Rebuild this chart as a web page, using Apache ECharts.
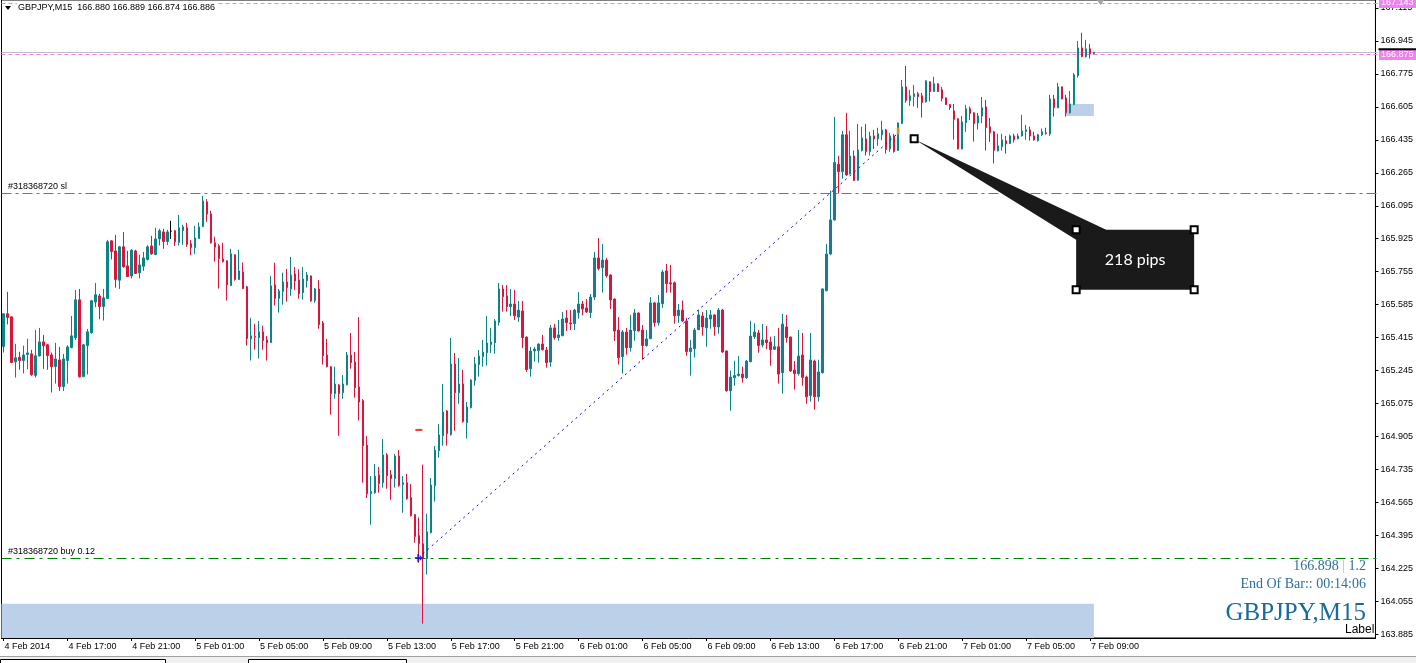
<!DOCTYPE html>
<html><head><meta charset="utf-8">
<script src="https://cdn.jsdelivr.net/npm/echarts@6/dist/echarts.min.js"></script>
<style>html,body{margin:0;padding:0;background:#fff;}#c{width:1416px;height:663px;}</style>
</head><body><div id="c"></div>
<script>
const symbolTitle = 'GBPJPY,M15';
const headerText = 'GBPJPY,M15  166.880 166.889 166.874 166.886';
const startTimeUTC = Date.UTC(2014, 1, 4, 13, 0);
const barMinutes = 15;
const totalSlots = 344;
const monthNames = ['Jan','Feb','Mar','Apr','May','Jun','Jul','Aug','Sep','Oct','Nov','Dec'];

const opens = [
165.369,165.538,165.522,165.290,165.314,165.297,165.328,165.331,165.220,165.321,
165.393,165.378,165.326,165.266,165.300,165.163,165.297,165.364,165.414,165.610,
165.214,165.374,165.440,165.599,165.630,165.575,165.617,165.914,165.862,165.711,
165.883,165.785,165.733,165.862,165.749,165.783,165.818,165.888,165.844,165.924,
165.960,165.911,165.964,165.966,165.905,165.967,165.981,165.899,165.880,165.926,
165.988,166.115,166.053,165.904,165.888,165.821,165.811,165.684,165.842,165.715,
165.754,165.677,165.409,165.421,165.414,165.445,165.403,165.390,165.687,165.617,
165.654,165.702,165.666,165.743,165.712,165.647,165.709,165.733,165.606,165.666,
165.490,165.325,165.265,165.126,165.171,165.131,165.172,165.325,165.289,165.160,
165.090,164.861,164.610,164.615,164.707,164.667,164.810,164.708,164.688,164.804,
164.657,164.667,164.590,164.502,164.394,164.352,164.275,164.409,164.652,164.832,
164.909,165.037,164.915,165.279,165.131,165.176,164.976,165.054,165.193,165.276,
165.317,165.337,165.379,165.389,165.494,165.666,165.630,165.575,165.588,165.521,
165.552,165.418,165.255,165.346,165.348,165.382,165.351,165.289,165.465,165.415,
165.425,165.516,165.491,165.487,165.544,165.588,165.568,165.544,165.624,165.826,
165.776,165.815,165.738,165.614,165.454,165.317,165.444,165.363,165.451,165.542,
165.454,165.374,165.410,165.594,165.492,165.590,165.759,165.698,165.698,165.528,
165.557,165.501,165.343,165.358,165.456,165.526,165.466,165.511,165.532,165.470,
165.557,165.346,165.141,165.208,165.219,165.227,165.208,165.291,165.420,165.439,
165.377,165.403,165.392,165.355,165.368,165.234,165.470,165.418,165.248,165.229,
165.325,165.212,165.116,165.294,165.110,165.234,165.657,165.846,166.022,166.309,
166.271,166.461,166.259,166.352,166.227,166.380,166.440,166.375,166.455,166.440,
166.461,166.486,166.388,166.455,166.380,166.519,166.708,166.638,166.658,166.672,
166.662,166.631,166.734,166.684,166.724,166.693,166.651,166.617,166.584,166.543,
166.388,166.524,166.595,166.574,166.522,166.558,166.605,166.502,166.476,166.378,
166.399,166.430,166.416,166.455,166.440,166.455,166.478,166.486,166.455,166.431,
166.461,166.471,166.466,166.646,166.600,166.708,166.651,166.574,166.617,166.766,
166.909,166.864,166.904,166.880];

const highs = [
165.538,165.651,165.525,165.383,165.342,165.373,165.409,165.352,165.455,165.465,
165.429,165.383,165.338,165.388,165.367,165.331,165.376,165.527,165.660,165.666,
165.383,165.460,165.610,165.697,165.641,165.666,165.919,165.917,165.945,165.888,
165.960,165.862,165.871,165.868,165.842,165.857,165.892,165.940,165.981,165.976,
165.976,165.971,166.017,165.971,166.048,165.997,166.007,165.919,165.991,166.009,
166.146,166.129,166.069,165.935,165.897,165.904,165.814,165.873,165.845,165.868,
165.802,165.682,165.517,165.486,165.501,165.476,165.424,165.733,165.801,165.666,
165.750,165.769,165.831,165.779,165.767,165.779,165.753,165.736,165.671,165.712,
165.501,165.408,165.268,165.265,165.176,165.222,165.341,165.439,165.341,165.521,
165.098,164.908,164.701,164.763,164.748,164.892,164.820,164.732,164.815,164.835,
164.701,164.712,164.660,164.505,164.487,164.760,164.507,164.691,164.856,164.970,
165.176,165.042,165.413,165.336,165.310,165.248,165.083,165.201,165.315,165.351,
165.403,165.526,165.465,165.511,165.697,165.686,165.686,165.666,165.661,165.604,
165.604,165.421,165.367,165.367,165.385,165.429,165.367,165.480,165.485,165.506,
165.547,165.557,165.557,165.563,165.650,165.604,165.614,165.640,165.857,165.929,
165.898,165.826,165.741,165.617,165.521,165.454,165.465,165.532,165.563,165.545,
165.480,165.454,165.624,165.599,165.635,165.764,165.795,165.790,165.704,165.588,
165.606,165.516,165.403,165.465,165.557,165.547,165.557,165.557,165.535,165.568,
165.563,165.349,165.245,165.296,165.320,165.265,165.300,165.502,165.489,165.454,
165.485,165.475,165.420,165.423,165.465,165.537,165.532,165.420,165.294,165.454,
165.439,165.219,165.439,165.301,165.301,165.669,165.898,166.173,166.553,166.352,
166.481,166.574,166.481,166.380,166.517,166.503,166.517,166.476,166.486,166.497,
166.533,166.491,166.471,166.466,166.525,166.744,166.816,166.693,166.718,166.682,
166.677,166.742,166.737,166.760,166.727,166.708,166.654,166.620,166.620,166.548,
166.558,166.615,166.607,166.577,166.574,166.656,166.641,166.548,166.481,166.466,
166.466,166.455,166.462,166.466,166.467,166.564,166.512,166.503,166.476,166.466,
166.493,166.497,166.667,166.667,166.729,166.711,166.667,166.687,166.780,166.945,
166.987,166.950,166.930,166.889];

const lows = [
165.338,165.483,165.283,165.209,165.249,165.230,165.252,165.218,165.209,165.317,
165.254,165.249,165.132,165.178,165.140,165.140,165.178,165.360,165.403,165.209,
165.211,165.225,165.436,165.572,165.510,165.503,165.614,165.818,165.672,165.666,
165.775,165.727,165.720,165.744,165.720,165.759,165.813,165.842,165.840,165.890,
165.873,165.893,165.924,165.888,165.890,165.893,165.883,165.840,165.847,165.924,
165.985,166.012,165.900,165.807,165.668,165.802,165.606,165.682,165.709,165.713,
165.665,165.374,165.297,165.352,165.307,165.352,165.297,165.387,165.581,165.544,
165.585,165.600,165.631,165.661,165.616,165.611,165.673,165.600,165.595,165.461,
165.276,165.262,165.018,165.100,164.909,165.100,165.169,165.255,165.105,164.987,
164.667,164.588,164.450,164.610,164.615,164.641,164.636,164.579,164.641,164.646,
164.512,164.579,164.492,164.358,164.254,163.940,164.193,164.406,164.569,164.796,
164.858,164.858,164.909,164.935,165.074,164.976,164.894,165.050,165.167,165.214,
165.265,165.270,165.336,165.332,165.477,165.549,165.549,165.526,165.506,165.496,
165.361,165.239,165.214,165.291,165.286,165.348,165.260,165.265,165.404,165.399,
165.422,165.449,165.454,165.454,165.513,165.530,165.542,165.516,165.609,165.762,
165.647,165.724,165.563,165.398,165.276,165.229,165.327,165.343,165.399,165.446,
165.301,165.368,165.407,165.471,165.477,165.569,165.647,165.647,165.487,165.492,
165.496,165.322,165.219,165.312,165.454,165.425,165.368,165.461,165.425,165.435,
165.337,165.136,165.038,165.167,165.214,165.183,165.202,165.288,165.408,165.337,
165.365,165.355,165.270,165.351,165.178,165.126,165.389,165.238,165.147,165.219,
165.167,165.074,165.085,165.043,165.085,165.229,165.654,165.840,166.019,166.158,
166.235,166.249,166.256,166.222,166.224,166.375,166.354,166.354,166.388,166.404,
166.433,166.364,166.373,166.369,166.378,166.517,166.626,166.610,166.607,166.600,
166.550,166.628,166.633,166.682,166.682,166.633,166.615,166.589,166.436,166.385,
166.385,166.476,166.538,166.426,166.488,166.521,166.380,166.424,166.313,166.375,
166.380,166.364,166.414,166.421,166.438,166.452,166.435,166.431,166.430,166.426,
166.455,166.462,166.455,166.555,166.598,166.643,166.555,166.571,166.614,166.756,
166.861,166.859,166.854,166.874];

const closes = [
165.538,165.519,165.287,165.311,165.297,165.326,165.336,165.223,165.321,165.393,
165.373,165.323,165.266,165.305,165.163,165.305,165.367,165.424,165.610,165.213,
165.378,165.445,165.605,165.636,165.575,165.620,165.909,165.859,165.715,165.883,
165.780,165.730,165.866,165.746,165.790,165.826,165.883,165.847,165.924,165.966,
165.911,165.960,165.964,165.909,165.981,165.986,165.895,165.880,165.929,165.986,
166.120,166.052,165.904,165.881,165.823,165.807,165.687,165.847,165.715,165.759,
165.668,165.410,165.424,165.417,165.445,165.400,165.388,165.682,165.617,165.656,
165.702,165.673,165.738,165.707,165.642,165.717,165.738,165.604,165.666,165.482,
165.322,165.265,165.126,165.176,165.126,165.176,165.325,165.286,165.157,165.083,
164.858,164.610,164.621,164.701,164.662,164.810,164.703,164.688,164.804,164.652,
164.667,164.584,164.497,164.389,164.352,164.275,164.414,164.655,164.835,164.913,
165.031,164.920,165.279,165.131,165.176,164.982,165.057,165.196,165.279,165.320,
165.341,165.387,165.392,165.501,165.666,165.626,165.575,165.588,165.528,165.557,
165.415,165.250,165.346,165.356,165.382,165.353,165.286,165.465,165.415,165.429,
165.511,165.492,165.487,165.557,165.588,165.563,165.547,165.624,165.826,165.771,
165.815,165.734,165.609,165.449,165.312,165.444,165.363,165.454,165.542,165.449,
165.374,165.408,165.594,165.492,165.594,165.753,165.693,165.692,165.528,165.557,
165.501,165.343,165.361,165.454,165.532,165.470,165.516,165.532,165.471,165.557,
165.341,165.141,165.212,165.219,165.227,165.208,165.294,165.423,165.444,165.374,
165.403,165.389,165.353,165.368,165.227,165.485,165.415,165.243,165.229,165.320,
165.210,165.110,165.300,165.110,165.238,165.666,165.846,166.022,166.318,166.271,
166.461,166.254,166.352,166.225,166.383,166.445,166.375,166.455,166.440,166.466,
166.486,166.385,166.455,166.375,166.522,166.708,166.638,166.662,166.672,166.658,
166.627,166.739,166.684,166.724,166.684,166.648,166.617,166.601,166.540,166.388,
166.528,166.595,166.571,166.519,166.558,166.600,166.498,166.471,166.380,166.404,
166.435,166.414,166.455,166.435,166.455,166.481,166.486,166.455,166.435,166.461,
166.476,166.467,166.646,166.601,166.708,166.646,166.574,166.620,166.770,166.909,
166.864,166.904,166.878,166.886];

const priceTicks = [163.885,164.055,164.225,164.395,164.565,164.735,164.905,165.075,165.245,165.415,
  165.585,165.755,165.925,166.095,166.265,166.435,166.605,166.775,166.945,167.115];
const axisMin = 163.866, axisMax = 167.156;

const topAlertPrice = 167.143;
const alertPrice = 166.875;
const bidPrice = 166.886;
const bidMarkerPrice = 166.902;
const slPrice = 166.161;
const buyPrice = 164.279;
const slLabel = '#318368720 sl';
const buyLabel = '#318368720 buy 0.12';
const tradeOpen = [105, 164.30];
const tradeClose = [224, 166.47];
const buyArrow = [104, 164.279];
const redMarker = [104, 164.939];
const closeMarker = [224, 166.48];
const zoneLow = [0, 273, 163.866, 164.042];
const zoneHigh = [266, 273, 166.558, 166.620];
const calloutAnchor = [228, 166.44];
const calloutText = '218 pips';
const infoLine1 = ['166.898', '1.2'];
const infoLine2 = 'End Of Bar:: 00:14:06';

function pad(n){ return (n<10?'0':'')+n; }
const categories = [];
for (let i = 0; i < totalSlots; i++) {
  const t = new Date(startTimeUTC + i * barMinutes * 60000);
  categories.push(i === 0 ? (t.getUTCDate()+' '+monthNames[t.getUTCMonth()]+' '+t.getUTCFullYear())
    : (t.getUTCDate()+' '+monthNames[t.getUTCMonth()]+' '+pad(t.getUTCHours())+':'+pad(t.getUTCMinutes())));
}
const candleData = opens.map((o, i) => [o, closes[i], lows[i], highs[i]]);
const lastIdx = opens.length - 2;
const showIdx = (i) => i % 16 === 0 && i <= lastIdx;

const chart = echarts.init(document.getElementById('c'));
const F = 'Liberation Sans, Arial, sans-serif';
const gridLeft = 1.5, gridRight = 38.5;

chart.setOption({
  animation: false,
  backgroundColor: '#fff',
  grid: { left: gridLeft, right: gridRight, top: 0, bottom: 25, show: true, borderColor: '#000', borderWidth: 1, backgroundColor: '#fff' },
  xAxis: {
    type: 'category', data: categories, boundaryGap: true,
    axisLine: { show: true, lineStyle: { color: '#000', width: 1 } },
    axisTick: { show: true, alignWithLabel: true, interval: (i) => showIdx(i), length: 3, lineStyle: { color: '#000' } },
    axisLabel: { interval: (i) => showIdx(i), align: 'left', color: '#000', fontSize: 9, fontFamily: F, margin: 4, padding: [0,0,0,1] },
    splitLine: { show: false }
  },
  yAxis: {
    type: 'value', position: 'right', min: axisMin, max: axisMax,
    axisLine: { show: true, lineStyle: { color: '#000', width: 1 } },
    axisTick: { show: true, customValues: priceTicks, length: 3, lineStyle: { color: '#000' } },
    axisLabel: { customValues: priceTicks, formatter: (v) => v.toFixed(3), color: '#000', fontSize: 9, fontFamily: F, margin: 5 },
    splitLine: { show: false }
  },
  series: [
    {
      type: 'candlestick', data: candleData, barWidth: 2, clip: true, z: 4,
      itemStyle: { color: '#1F7796', color0: '#DC143C', borderColor: '#0A8585', borderColor0: '#DC143C', borderWidth: 1, borderColorDoji: '#000' },
      markArea: {
        silent: true,
        itemStyle: { color: '#BDD0EA' },
        data: [
          [{ xAxis: zoneHigh[0], yAxis: zoneHigh[2] }, { xAxis: zoneHigh[1], yAxis: zoneHigh[3] }]
        ]
      }
    },
    {
      type: 'scatter', silent: true, z: 6,
      data: [
        { value: buyArrow, symbol: 'path://M0,4 L6,4 L6,1 L10,5 L6,9 L6,6 L0,6 Z M3,0 L5,0 L5,10 L3,10 Z', symbolSize: [8, 8], itemStyle: { color: '#0000FF' } },
        { value: redMarker, symbol: 'rect', symbolSize: [7, 2], itemStyle: { color: '#FF0000' } },
        { value: closeMarker, symbol: 'rect', symbolSize: [3, 7], itemStyle: { color: '#DAA520' } }
      ]
    }
  ]
});

function P(pt){ return chart.convertToPixel({ gridIndex: 0 }, pt); }
const crisp = (v) => Math.round(v) + 0.5;
const plotL = gridLeft, plotR = 1416 - gridRight;
function hLineG(price, color, dash) {
  const y = crisp(P([0, price])[1]);
  return { type: 'line', z: 3, silent: true, shape: { x1: plotL, y1: y, x2: plotR, y2: y }, style: { stroke: color, lineWidth: 1, lineDash: dash } };
}
function axisBox(price, text) {
  const y = P([0, price])[1];
  return { type: 'text', z: 22, x: plotR + 1.5, y: y, style: { text: text, fill: '#fff', font: '9px ' + F, verticalAlign: 'middle', backgroundColor: '#EE82EE', padding: [1, 5, 1, 2] } };
}
const a = P(calloutAnchor);
const ax = a[0], ay = a[1];
const slY = P([0, slPrice])[1];
const buyY = P([0, buyPrice])[1];
const bidMY = P([0, bidMarkerPrice])[1];
const tA = P(tradeOpen), tB = P(tradeClose);
const zL1 = P([zoneLow[1], zoneLow[3]]);
const zL0y = P([0, zoneLow[2]])[1];
const handle = (x, y) => ({ type: 'rect', shape: { x: x - 3.5, y: y - 3.5, width: 7, height: 7 }, style: { fill: '#fff', stroke: '#000', lineWidth: 2 }, z: 30 });
const serif = 'Liberation Serif, Times New Roman, serif';

chart.setOption({
  graphic: [
    { type: 'rect', z: 1, silent: true, shape: { x: plotL, y: zL1[1], width: zL1[0] - plotL, height: zL0y - zL1[1] }, style: { fill: '#BDD0EA' } },
    hLineG(topAlertPrice, '#EE82EE', [4, 3]),
    hLineG(bidPrice, '#C0C0C0', null),
    hLineG(alertPrice, '#EE82EE', [4, 3]),
    hLineG(slPrice, '#FF4500', [10, 4, 3, 4]),
    hLineG(buyPrice, '#008000', [10, 5, 3, 5]),
    { type: 'line', z: 5, silent: true, shape: { x1: tA[0], y1: tA[1], x2: tB[0], y2: tB[1] }, style: { stroke: '#0000FF', lineWidth: 1, lineDash: [2, 4] } },
    axisBox(topAlertPrice, topAlertPrice.toFixed(3)),
    axisBox(alertPrice, alertPrice.toFixed(3)),
    { type: 'text', x: 17, y: 8, z: 20, style: { text: headerText, fill: '#000', font: '9px ' + F, verticalAlign: 'middle', backgroundColor: '#fff', padding: [2, 3, 2, 1] } },
    { type: 'polygon', z: 21, shape: { points: [[5, 6], [11, 6], [8, 10]] }, style: { fill: '#000' } },
    { type: 'text', x: 8, y: slY - 2, z: 20, style: { text: slLabel, fill: '#000', font: '9px ' + F, verticalAlign: 'bottom' } },
    { type: 'text', x: 8, y: buyY - 2, z: 20, style: { text: buyLabel, fill: '#000', font: '9px ' + F, verticalAlign: 'bottom' } },
    { type: 'line', z: 23, shape: { x1: plotR + 1, y1: bidMY, x2: 1416, y2: bidMY }, style: { stroke: '#000', lineWidth: 2 } },
    { type: 'polygon', z: 20, shape: { points: [[1097, 0], [1104, 0], [1100.5, 5]] }, style: { fill: '#A0A0A0' } },
    { type: 'polygon', z: 25, shape: { points: [[ax + 1, ay + 1], [ax + 162, ay + 101], [ax + 192, ay + 91]] }, style: { fill: '#1A1A1A' } },
    { type: 'rect', z: 25, shape: { x: ax + 162, y: ay + 91, width: 118, height: 60 }, style: { fill: '#1A1A1A' } },
    { type: 'text', z: 26, x: ax + 221, y: ay + 121, style: { text: calloutText, fill: '#fff', font: '16px Lato, sans-serif', align: 'center', verticalAlign: 'middle' } },
    handle(ax, ay), handle(ax + 162, ay + 91), handle(ax + 280, ay + 91), handle(ax + 162, ay + 151), handle(ax + 280, ay + 151),
    { type: 'text', z: 20, x: 1366, y: 566, style: { text: '{a|' + infoLine1[0] + '}{b| | }{a|' + infoLine1[1] + '}', align: 'right', verticalAlign: 'middle',
        rich: { a: { fill: '#2E6E9E', font: '14px ' + serif }, b: { fill: '#F0A0A8', font: '14px ' + serif } } } },
    { type: 'text', z: 20, x: 1366, y: 584, style: { text: infoLine2, fill: '#2E6E9E', font: '14px ' + serif, align: 'right', verticalAlign: 'middle' } },
    { type: 'text', z: 20, x: 1366, y: 613, style: { text: symbolTitle, fill: '#1B6A9A', font: '25px ' + serif, align: 'right', verticalAlign: 'middle' } },
    { type: 'text', z: 20, x: 1345, y: 630, style: { text: 'Label', fill: '#000', font: '12px ' + F, verticalAlign: 'middle' } },
    { type: 'rect', z: 1, shape: { x: 0, y: 656, width: 1416, height: 7 }, style: { fill: '#F0F0F0' } },
    { type: 'line', z: 2, shape: { x1: 0, y1: 656.5, x2: 1416, y2: 656.5 }, style: { stroke: '#A0A0A0', lineWidth: 1 } },
    { type: 'rect', z: 2, shape: { x: 0.5, y: 659.5, width: 165, height: 5 }, style: { fill: '#fff', stroke: '#000', lineWidth: 1 } },
    { type: 'rect', z: 2, shape: { x: 248.5, y: 659.5, width: 158, height: 5 }, style: { fill: '#fff', stroke: '#000', lineWidth: 1 } }
  ]
});
</script>
</body></html>
